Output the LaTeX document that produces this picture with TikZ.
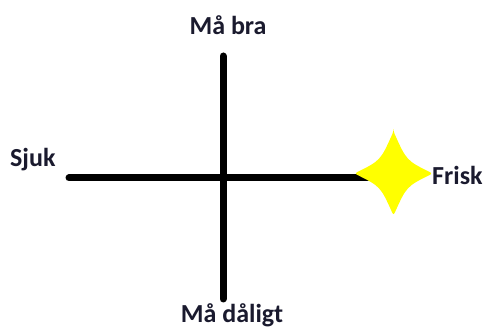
\documentclass[tikz,border=0pt]{standalone}
\usepackage{fontspec}
\setmainfont{Carlito}
\definecolor{txt}{HTML}{1A1A2E}
\definecolor{staryellow}{HTML}{FFFF00}
\tikzset{
  axis/.style={line width=7pt, line cap=round, black},
  lbl/.style={font=\bfseries\fontsize{26}{30}\selectfont, text=txt, inner sep=0pt},
}
\begin{document}
\begin{tikzpicture}[x=1pt,y=1pt]
\useasboundingbox[fill=white] (0,0) rectangle (492,329);
% axis end points
\coordinate (hl) at (69,151);
\coordinate (hr) at (372,151);
\coordinate (vt) at (223,273);
\coordinate (vb) at (223,30);
\draw[axis] (hl) -- (hr);
\draw[axis] (vt) -- (vb);
% star
\coordinate (sc) at (393.5,155.5);
\fill[staryellow, rounded corners=2.5pt] ([shift={(0,42)}]sc)
  .. controls ([shift={(13,13)}]sc) .. ([shift={(39,0)}]sc)
  .. controls ([shift={(13,-13)}]sc) .. ([shift={(0,-42)}]sc)
  .. controls ([shift={(-13,-13)}]sc) .. ([shift={(-39,0)}]sc)
  .. controls ([shift={(-13,13)}]sc) .. cycle;
% labels
\node[lbl, anchor=base] (mabra) at (228,294) {Må bra};
\node[lbl, anchor=base] (madaligt) at (232,6.5) {Må dåligt};
\node[lbl, anchor=base west] (sjuk) at (10,162) {Sjuk};
\node[lbl, anchor=base west] (frisk) at (432,144) {Frisk};
\end{tikzpicture}
\end{document}
